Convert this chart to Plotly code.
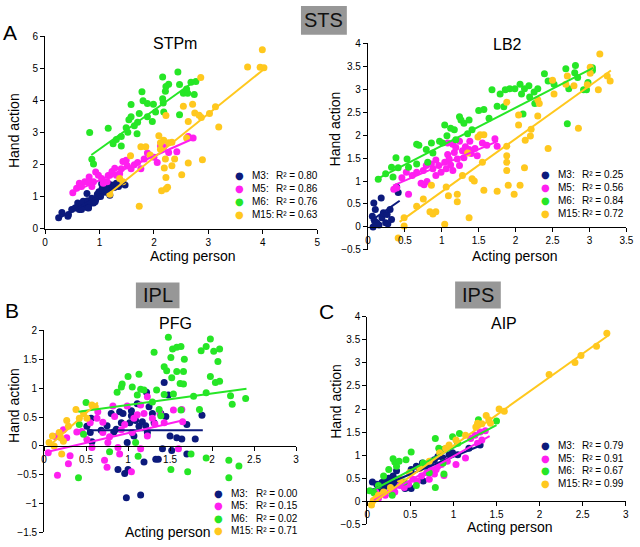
import plotly.graph_objects as go

# ---------------- DATA ----------------
SERIES = ["M3", "M5", "M6", "M15"]

# Panel A : STPm
stpm_m3_x = [0.25,0.31,0.42,0.49,0.57,0.60,0.63,0.67,0.70,0.75, 0.78,0.81,0.86,0.89,0.93,0.96,0.99,1.02,1.05,1.10, 1.14,1.17,1.22,1.27,1.31,1.35,1.47,0.67,0.78,0.77, 1.04,1.16,1.40,0.98,0.92,0.80,0.55,0.43,1.13,1.19]
stpm_m3_y = [0.35,0.51,0.40,0.61,0.66,0.81,0.61,0.71,0.86,0.74, 0.88,0.76,0.96,0.81,0.91,1.08,1.16,1.01,1.27,1.14, 1.32,1.18,1.37,1.29,1.42,1.32,1.37,0.61,0.66,1.10, 1.41,1.41,1.41,1.00,0.85,0.65,0.65,0.45,1.21,1.05]
stpm_m5_x = [0.51,0.58,0.63,0.67,0.73,0.81,0.89,0.93,0.98,1.04, 1.07,1.14,1.19,1.23,1.28,1.31,1.37,1.40,1.43,1.49, 1.51,1.58,1.64,1.70,1.76,1.82,1.88,2.00,2.06,2.12, 2.18,2.27,2.42,2.63,2.72,0.86,0.79,1.16]
stpm_m5_y = [1.13,1.27,1.42,1.32,1.47,1.62,1.47,1.77,1.67,1.57, 1.42,1.47,1.67,1.79,1.89,1.67,1.72,1.87,2.10,2.14, 1.97,1.87,2.00,2.07,1.87,2.18,2.36,2.23,2.07,2.58, 2.56,2.38,2.40,2.88,2.83,1.32,1.46,1.66]
stpm_m6_x = [2.44,2.16,2.27,2.47,2.68,2.77,2.22,2.54,2.62,2.74, 2.21,1.78,2.16,1.80,1.88,1.58,1.99,2.17,2.18,2.03, 1.73,1.58,1.88,1.97,1.70,1.54,2.47,0.82,1.16,1.49, 1.64,1.52,1.69,1.40,1.31,1.25,1.40,0.86,0.89,2.60]
stpm_m6_y = [4.88,4.73,4.50,4.49,4.56,4.59,4.43,4.22,4.22,4.18, 4.28,4.27,4.05,3.99,3.90,3.87,3.88,3.92,3.64,3.64, 3.59,3.49,3.49,3.34,3.32,3.40,3.55,3.00,3.13,3.15, 3.21,3.01,2.96,2.88,2.78,2.65,2.58,2.17,2.02,4.35]
stpm_m15_x = [3.99,3.72,3.95,4.02,2.86,2.71,2.54,3.13,3.02,2.75, 2.83,2.87,2.63,3.19,2.22,2.09,2.18,2.27,2.33,2.12, 1.57,1.76,1.85,1.93,2.60,2.12,2.21,2.38,2.19,2.33, 2.63,2.89,2.51,2.22,2.14,2.22,2.25,1.73,1.19,1.37, 1.43]
stpm_m15_y = [5.57,5.04,5.03,5.01,4.71,3.88,3.82,3.80,3.59,3.61, 3.54,3.47,3.34,3.17,3.53,2.90,2.76,2.68,2.70,2.68, 2.28,2.56,2.56,2.30,2.83,2.48,2.18,2.18,1.90,1.97, 2.05,2.15,1.69,1.60,1.19,1.24,1.30,0.71,1.08,1.57, 1.47]
stpm_fit_x = [[0.25, 1.49], [0.49, 2.75], [0.85, 2.75], [1.19, 4.02]]
stpm_fit_y = [[0.33, 1.47], [1.13, 2.83], [2.30, 4.60], [1.12, 4.97]]
stpm_r2 = ["0.80", "0.86", "0.76", "0.63"]

# Panel A : LB2
lb2_m3_x = [0.06,0.08,0.10,0.09,0.12,0.15,0.18,0.19,0.21,0.24,0.26,0.30,0.32,0.39,0.41,0.07,0.27]
lb2_m3_y = [0.23,0.52,0.38,0.13,0.09,0.04,0.63,0.20,0.31,0.09,0.27,0.38,0.16,0.87,0.75,0.00,0.07]
lb2_m5_x = [0.35,0.39,0.46,0.55,0.52,0.60,0.66,0.72,0.76,0.80, 0.75,0.79,0.86,0.88,0.92,0.96,0.99,1.04,1.06,1.08, 1.10,1.12,1.15,1.17,1.19,1.21,1.24,1.24,1.28,1.30, 1.32,1.35,1.37,1.38,1.40,1.45,1.48,1.55,1.61,1.72, 1.75,1.15,1.08,0.92]
lb2_m5_y = [0.82,0.85,1.07,0.71,1.19,1.12,1.19,0.95,0.92,0.99, 1.23,1.34,1.37,1.27,1.46,1.34,1.19,1.41,1.27,1.58, 1.48,1.35,1.23,1.62,1.73,1.48,1.34,1.87,1.66,1.51, 1.75,1.62,1.69,1.87,1.60,1.71,1.55,1.83,1.78,1.92, 1.76,1.80,1.83,1.12]
lb2_m6_x = [0.14,0.24,0.32,0.38,0.41,0.53,0.66,0.69,0.66,0.79, 0.86,0.97,1.04,1.07,1.12,1.17,1.24,1.26,1.30,1.37, 1.41,1.50,1.57,1.64,1.68,1.75,1.79,1.84,1.86,1.92, 1.99,2.06,2.08,2.12,2.18,2.19,2.25,2.26,2.30,2.39, 2.44,2.52,2.10,2.68,2.72,2.70,2.80,2.81,2.84,2.92, 2.98,3.04,3.04,2.96,1.35,1.19,1.01,0.88,0.55,0.81, 0.34]
lb2_m6_y = [1.04,1.16,1.30,1.51,1.29,1.48,1.80,1.78,1.37,1.69, 1.83,1.87,2.22,1.99,2.15,2.12,2.40,2.33,2.26,2.33, 2.12,2.54,2.56,2.37,2.99,2.63,2.90,2.62,2.99,3.01, 3.01,3.11,2.90,3.01,3.08,2.83,2.94,2.69,3.01,3.34, 3.18,3.11,2.46,3.45,3.01,2.25,3.36,3.52,3.26,2.99, 3.15,3.47,3.41,2.99,2.03,1.90,1.83,1.61,1.30,1.41, 1.09]
lb2_m15_x = [0.41,0.49,0.49,0.66,0.75,0.84,0.88,0.92,0.86,1.04, 1.06,1.09,1.21,1.21,1.28,1.35,1.37,1.41,1.44,1.49, 1.52,1.57,1.57,1.55,1.75,1.88,1.88,1.88,1.88,1.90, 1.88,1.98,2.04,2.06,2.04,2.12,2.13,2.20,2.21,2.30, 2.32,2.30,2.44,2.52,2.50,2.68,2.70,2.79,2.85,2.97, 3.01,3.01,3.12,3.14,3.24,3.28]
lb2_m15_y = [-0.24,0.02,0.20,0.45,0.61,0.33,0.28,0.33,0.91,0.06, 0.87,0.68,0.71,0.55,1.12,1.61,0.20,1.05,1.00,1.96, 2.01,0.80,2.01,1.41,0.78,1.76,1.55,1.41,1.23,0.91, 2.72,0.71,2.22,0.91,2.44,1.29,1.89,1.98,2.13,2.42, 2.69,2.77,1.71,2.90,3.20,3.11,3.29,3.08,2.15,3.10, 3.48,3.35,2.99,3.77,3.29,3.18]
lb2_fit_x = [[0.04, 0.43], [0.34, 1.76], [0.12, 3.05], [0.43, 3.29]]
lb2_fit_y = [[0.13, 0.57], [0.90, 1.87], [1.04, 3.47], [0.11, 3.41]]
lb2_r2 = ["0.25", "0.56", "0.84", "0.72"]

# Panel B : PFG
pfg_m3_x = [0.51,0.56,0.55,0.57,0.68,0.75,0.80,0.83,0.86,0.88, 0.90,0.92,0.94,0.96,0.98,0.99,1.00,1.02,1.04,1.04, 1.05,1.07,1.09,1.11,1.13,1.15,1.17,1.19,1.21,1.22, 1.23,1.25,1.29,1.31,1.33,1.36,1.39,1.41,1.43,1.45, 1.48,1.50,1.52,1.58,1.64,1.70,1.70,1.80,1.88]
pfg_m3_y = [0.34,0.48,0.23,0.07,0.27,0.35,0.56,0.24,0.29,-0.41, 0.59,0.40,0.56,-0.48,-0.90,0.06,-0.41,0.40,0.52,0.61, 0.23,0.17,0.44,0.73,0.34,-0.85,0.42,-0.28,0.35,0.93, 0.23,0.68,0.56,0.40,-0.23,-0.23,0.56,-0.05,1.10,0.51, 0.88,0.17,-0.08,0.14,0.12,0.37,-0.14,0.12,0.53]
pfg_m5_x = [0.05,0.14,0.16,0.23,0.27,0.29,0.31,0.39,0.45,0.51, 0.55,0.57,0.63,0.64,0.70,0.72,0.75,0.76,0.78,0.82, 0.84,0.88,0.90,0.92,0.96,0.99,1.04,1.05,1.07,1.11, 1.15,1.19,1.23,1.23,1.15,1.29,1.32,1.38,1.43,1.54, 1.64,1.60,1.65,0.70]
pfg_m5_y = [-0.12,0.16,-0.51,0.28,0.14,-0.31,-0.17,0.24,0.25,0.11, 0.40,-0.03,0.48,0.59,0.23,-0.25,-0.37,0.06,0.16,0.69, 0.51,-0.03,-0.14,0.28,0.37,0.69,-0.45,0.23,0.48,0.54, 0.71,0.56,0.85,0.17,-0.05,0.48,0.38,0.56,0.40,0.62, 0.63,-0.05,0.42,0.41]
pfg_m6_x = [1.48,1.31,1.53,1.58,1.63,1.51,1.67,1.87,1.93,1.98, 2.02,2.09,2.07,1.43,1.46,1.58,1.66,1.52,1.62,1.66, 1.98,2.04,2.09,1.00,1.13,0.93,0.92,0.87,1.05,1.15, 1.19,1.34,1.11,1.43,1.54,1.78,1.93,2.22,2.40,2.24, 1.29,1.37,1.63,1.85,0.50,0.42,0.47,1.09,0.78,1.12, 1.75,1.93,2.20,2.32,2.20,1.51,1.71,0.41,1.39]
pfg_m6_y = [1.88,1.62,1.68,1.71,1.72,1.53,1.50,1.65,1.72,1.85, 1.64,1.68,1.46,1.37,1.30,1.29,1.29,1.18,1.08,1.07, 1.20,1.10,1.12,1.20,1.24,1.07,1.02,0.93,1.02,0.98, 0.97,0.97,0.88,0.89,0.90,0.86,0.92,0.87,0.82,0.72, 0.76,0.63,0.62,0.63,0.75,0.37,0.20,0.06,-0.10,-0.18, -0.14,-0.21,-0.25,-0.35,-0.55,-0.41,-0.45,-0.55,0.52]
pfg_m15_x = [0.06,0.10,0.12,0.18,0.20,0.21,0.23,0.27,0.29,0.38,0.42,0.47,0.51,0.57,0.61]
pfg_m15_y = [0.06,0.17,0.00,0.23,0.14,-0.14,0.08,0.44,0.34,0.63,0.48,0.56,0.48,0.71,0.68]
pfg_fit_x = [[0.51, 1.89], [0.02, 1.67], [0.41, 2.41], [0.06, 0.64]]
pfg_fit_y = [[0.27, 0.27], [-0.11, 0.45], [0.59, 0.99], [0.00, 0.75]]
pfg_r2 = ["0.00", "0.15", "0.02", "0.71"]

# Panel C : AIP
aip_m3_x = [0.06,0.11,0.13,0.17,0.21,0.23,0.25,0.27,0.30,0.32, 0.34,0.36,0.40,0.44,0.46,0.51,0.51,0.57,0.61,0.64, 0.65,0.69,0.74,0.78,0.82,0.88,0.95,0.99,1.05,1.18, 1.31,0.19]
aip_m3_y = [0.42,0.37,0.28,0.41,0.48,0.34,0.50,0.44,0.55,0.37, 0.66,0.48,0.41,0.28,0.30,0.28,0.69,0.76,0.73,0.83, 0.44,0.76,0.87,0.90,0.97,0.94,1.01,1.05,1.01,1.15, 1.22,0.30]
aip_m5_x = [0.10,0.13,0.21,0.27,0.32,0.38,0.43,0.48,0.53,0.58, 0.63,0.69,0.74,0.78,0.82,0.86,0.89,0.93,1.03,1.14, 1.20,1.25,1.28,1.31,1.33,1.37,0.72,0.80]
aip_m5_y = [0.20,0.06,0.13,0.23,0.20,0.34,0.30,0.37,0.48,0.44, 0.55,0.62,0.69,0.59,0.76,0.80,0.56,0.87,0.80,0.94, 1.36,1.43,1.26,1.50,1.33,1.53,0.48,0.69]
aip_m6_x = [0.03,0.08,0.13,0.19,0.25,0.30,0.32,0.34,0.37,0.43, 0.45,0.51,0.57,0.65,0.72,0.79,0.88,0.89,0.79,0.83, 0.89,0.99,1.07,1.05,1.29,1.50,0.29]
aip_m6_y = [0.23,0.18,0.34,0.55,0.69,0.92,0.85,0.76,0.87,0.42, 0.90,1.07,0.34,0.83,0.62,0.30,0.83,0.59,1.36,1.15, 1.13,1.40,1.47,1.26,1.77,1.74,0.13]
aip_m15_x = [0.05,0.07,0.10,0.13,0.19,0.27,0.38,0.49,0.61,0.72, 0.84,0.91,0.95,1.03,1.14,1.26,1.28,1.33,1.38,1.41, 1.43,1.53,1.59,2.11,2.41,2.48,2.66,2.78]
aip_m15_y = [-0.08,0.02,0.06,0.13,0.20,0.30,0.48,0.62,0.71,0.87, 1.05,1.15,1.22,1.33,1.43,1.61,1.69,1.68,1.86,1.77, 1.69,2.00,1.95,2.75,3.01,3.16,3.36,3.64]
aip_fit_x = [[0.06, 1.33], [0.08, 1.42], [0.00, 1.50], [0.02, 2.80]]
aip_fit_y = [[0.25, 1.22], [0.02, 1.41], [0.18, 1.65], [-0.10, 3.60]]
aip_r2 = ["0.79", "0.91", "0.67", "0.99"]

# ---------------- STYLE / LAYOUT ----------------
W, H = 640, 547
FONT = "Liberation Sans, Arial, Helvetica, sans-serif"
COL = {"M3": "#0c1a7c", "M5": "#ff1ff0", "M6": "#26e626", "M15": "#ffc81e"}


def px(x):
    return x / W


def py(y):
    return 1 - y / H


panels = [
    dict(title="STPm", xs=[stpm_m3_x, stpm_m5_x, stpm_m6_x, stpm_m15_x],
         ys=[stpm_m3_y, stpm_m5_y, stpm_m6_y, stpm_m15_y],
         fx=stpm_fit_x, fy=stpm_fit_y, r2=stpm_r2),
    dict(title="LB2", xs=[lb2_m3_x, lb2_m5_x, lb2_m6_x, lb2_m15_x],
         ys=[lb2_m3_y, lb2_m5_y, lb2_m6_y, lb2_m15_y],
         fx=lb2_fit_x, fy=lb2_fit_y, r2=lb2_r2),
    dict(title="PFG", xs=[pfg_m3_x, pfg_m5_x, pfg_m6_x, pfg_m15_x],
         ys=[pfg_m3_y, pfg_m5_y, pfg_m6_y, pfg_m15_y],
         fx=pfg_fit_x, fy=pfg_fit_y, r2=pfg_r2),
    dict(title="AIP", xs=[aip_m3_x, aip_m5_x, aip_m6_x, aip_m15_x],
         ys=[aip_m3_y, aip_m5_y, aip_m6_y, aip_m15_y],
         fx=aip_fit_x, fy=aip_fit_y, r2=aip_r2),
]

# pixel geometry for each panel
geom = [
    dict(xd=(42.7, 319.3), yd=(228.0, 30.7), xr=[0, 5], yr=[0, 6], dt=1, xpos=None,
         title=(175, 38.5), xt=(193, 256), yt=(11, 127),
         leg=dict(nx=251, rows=[173.3, 186.7, 199.6, 213.3])),
    dict(xd=(370.7, 633.3), yd=(249.3, 38.3), xr=[0, 3.5], yr=[-0.5, 4], dt=0.5, xpos=225.9,
         title=(513, 39), xt=(520, 256), yt=(337.5, 126),
         leg=dict(nx=562, rows=[172.7, 185.5, 198.5, 211.7])),
    dict(xd=(41.7, 297.7), yd=(538.3, 331.7), xr=[0, 3], yr=[-1.5, 2], dt=0.5, xpos=449.8,
         title=(175, 325), xt=(168, 538), yt=(11, 408),
         leg=dict(nx=230, rows=[498.5, 511, 523.7, 536.7])),
    dict(xd=(370.0, 632.7), yd=(530.0, 317.7), xr=[0, 3], yr=[-0.5, 4], dt=0.5, xpos=506.4,
         title=(509, 325), xt=(515, 532.5), yt=(338, 404),
         leg=dict(nx=562, rows=[449.7, 462.5, 475.3, 488.3])),
]

fig = go.Figure()
annotations = []
shapes = []
layout_axes = {}

axis_common = dict(showline=True, linecolor="black", linewidth=1, ticks="outside",
                   ticklen=4, tickwidth=1, tickcolor="black", showgrid=False,
                   zeroline=False, fixedrange=True,
                   tickfont=dict(family=FONT, size=10, color="black"))

for i, (p, g) in enumerate(zip(panels, geom)):
    sfx = "" if i == 0 else str(i + 1)
    xa, ya = "x" + sfx, "y" + sfx
    for k, s in enumerate(SERIES):
        fig.add_trace(go.Scatter(x=p["xs"][k], y=p["ys"][k], mode="markers",
                                 marker=dict(size=7, color=COL[s], line=dict(width=0)),
                                 xaxis=xa, yaxis=ya, showlegend=False, cliponaxis=False))
    for k, s in enumerate(SERIES):
        fig.add_trace(go.Scatter(x=p["fx"][k], y=p["fy"][k], mode="lines",
                                 line=dict(color=COL[s], width=2),
                                 xaxis=xa, yaxis=ya, showlegend=False))
    xax = dict(axis_common, domain=[px(g["xd"][0]), px(g["xd"][1])], range=g["xr"],
               dtick=g["dt"], tick0=0)
    if g["xpos"] is None:
        xax["anchor"] = ya
    else:
        xax["anchor"] = "free"
        xax["position"] = py(g["xpos"])
    yax = dict(axis_common, domain=[py(g["yd"][0]), py(g["yd"][1])], range=g["yr"],
               dtick=g["dt"], tick0=0, anchor=xa)
    layout_axes["xaxis" + sfx] = xax
    layout_axes["yaxis" + sfx] = yax

    # titles
    annotations.append(dict(text=p["title"], x=px(g["title"][0]), y=py(g["title"][1]),
                            xref="paper", yref="paper", showarrow=False,
                            xanchor="center", yanchor="middle",
                            font=dict(family=FONT, size=16, color="black")))
    annotations.append(dict(text="Acting person", x=px(g["xt"][0]), y=py(g["xt"][1]),
                            xref="paper", yref="paper", showarrow=False,
                            xanchor="center", yanchor="middle",
                            font=dict(family=FONT, size=14, color="black")))
    annotations.append(dict(text="Hand action", x=px(g["yt"][0]), y=py(g["yt"][1]),
                            xref="paper", yref="paper", showarrow=False, textangle=-90,
                            xanchor="center", yanchor="middle",
                            font=dict(family=FONT, size=14, color="black")))
    # legend (marker glyph, series name, R² text)
    L = g["leg"]
    for k, s in enumerate(SERIES):
        yy = py(L["rows"][k])
        annotations.append(dict(text="\u25CF", x=px(L["nx"] - 11), y=yy, xref="paper",
                                yref="paper", showarrow=False, xanchor="center",
                                yanchor="middle",
                                font=dict(family="DejaVu Sans", size=10, color=COL[s])))
        annotations.append(dict(text=s + ":", x=px(L["nx"]), y=yy, xref="paper", yref="paper",
                                showarrow=False, xanchor="left", yanchor="middle",
                                font=dict(family=FONT, size=10, color="black")))
        annotations.append(dict(text="R\u00b2 = " + p["r2"][k], x=px(L["nx"] + 24.5), y=yy,
                                xref="paper", yref="paper",
                                showarrow=False, xanchor="left", yanchor="middle",
                                font=dict(family=FONT, size=10, color="black")))

# region boxes
boxes = [("STS", 302.7, 0, 349.3, 29.3), ("IPL", 135, 282.7, 179.3, 309),
         ("IPS", 459.3, 281.7, 505.7, 309.3)]
for txt, x0, y0, x1, y1 in boxes:
    shapes.append(dict(type="rect", xref="paper", yref="paper", x0=px(x0), x1=px(x1),
                       y0=py(y1), y1=py(y0), fillcolor="#979797", line=dict(width=0),
                       layer="below"))
    annotations.append(dict(text=txt, x=px((x0 + x1) / 2), y=py((y0 + y1) / 2),
                            xref="paper", yref="paper", showarrow=False,
                            xanchor="center", yanchor="middle",
                            font=dict(family=FONT, size=20, color="#111111")))

# panel letters
for txt, x, y in [("A", 7.5, 26.7), ("B", 9, 311.7), ("C", 329, 312.5)]:
    annotations.append(dict(text=txt, x=px(x), y=py(y), xref="paper", yref="paper",
                            showarrow=False, xanchor="center", yanchor="middle",
                            font=dict(family=FONT, size=21, color="black")))

fig.update_layout(width=W, height=H, margin=dict(l=0, r=0, t=0, b=0),
                  paper_bgcolor="white", plot_bgcolor="rgba(0,0,0,0)",
                  showlegend=False, annotations=annotations, shapes=shapes,
                  **layout_axes)

fig.write_html("out.html", config={"displayModeBar": False, "staticPlot": True},
               post_script="document.body.style.margin='0';document.body.style.padding='0';"
                           "document.body.style.overflow='hidden';")
